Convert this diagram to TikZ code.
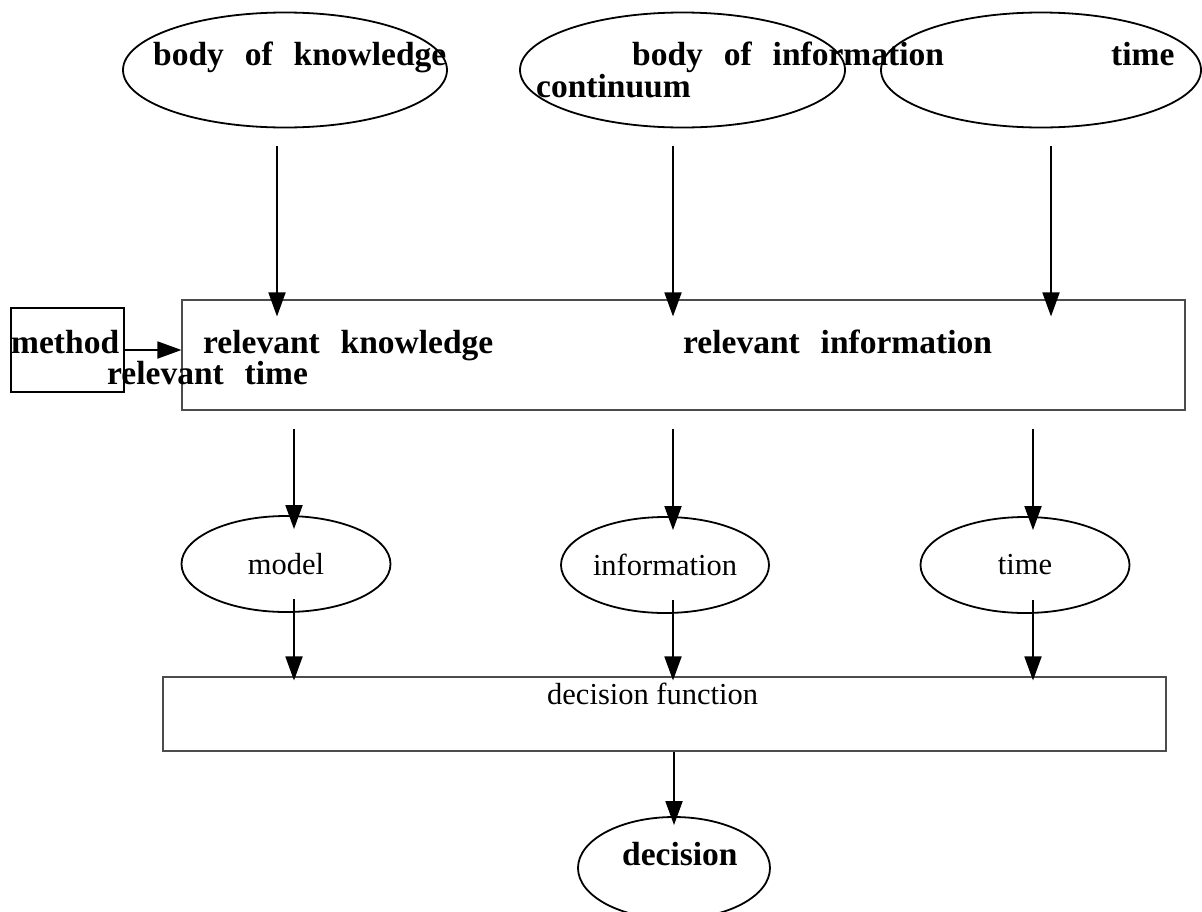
\documentclass[tikz,border=0pt]{standalone}
\usepackage{fontspec}
\setmainfont{Liberation Serif}
\newfontfamily\heavy[WordSpace=2.5]{Liberation Serif}
\usetikzlibrary{arrows.meta,positioning,shapes.geometric}

\tikzset{
  oval/.style={ellipse, draw, line width=1.8pt, inner sep=0pt},
  panel/.style={rectangle, draw=black!70, line width=1.1pt, inner sep=0pt},
  tag/.style={inner sep=0pt, anchor=base west, font=\heavy\bfseries\fontsize{33.5}{40}\selectfont},
  plain/.style={font=\fontsize{30.5}{36}\selectfont},
  arr/.style={-{Triangle[length=24pt,width=17pt]}, line width=1.8pt}
}

\begin{document}
\begin{tikzpicture}[x=1pt,y=-1pt]
\useasboundingbox (0,0) rectangle (1202,911);

% sources
\node[oval, minimum width=324pt, minimum height=115pt] (kbody) at (285,70)    {};
\node[oval, minimum width=325pt, minimum height=115pt] (ibody) at (682.5,70)  {};
\node[oval, minimum width=320pt, minimum height=115pt] (tbody) at (1041,70)   {};
\node[tag] (kbody-txt) at (153,65)  {body of knowledge};
\node[tag] (ibody-txt) at (632,65)  {body of information};
\node[tag] (tbody-txt) at (1111,65) {time};
\node[tag] (cont-txt)  at (536,97)  {continuum};

% filter
\node[panel, minimum width=1003pt, minimum height=110pt] (relbox) at (683.5,355) {};
\node[rectangle, draw, line width=1.5pt, minimum width=113pt, minimum height=84pt] (method) at (67.5,350) {};
\node[tag] (method-txt) at (11,353)  {method};
\node[tag] (rk-txt)     at (203,353) {relevant knowledge};
\node[tag] (ri-txt)     at (683,353) {relevant information};
\node[tag] (rt-txt)     at (107,384) {relevant time};

% inputs
\node[oval, plain, minimum width=209pt, minimum height=96pt] (model) at (286,564)  {model};
\node[oval, plain, minimum width=208pt, minimum height=96pt] (info)  at (665,565)  {information};
\node[oval, plain, minimum width=209pt, minimum height=96pt] (tnow)  at (1025,565) {time};

% decision
\node[panel, minimum width=1003pt, minimum height=74pt] (dfun) at (664.5,714) {};
\node[plain, inner sep=0pt, anchor=base west] (dfun-txt) at (547,704) {decision function};
\node[oval, minimum width=192pt, minimum height=102pt] (dec) at (674,868) {};
\node[tag] (dec-txt) at (622,865) {decision};

\draw[arr, shorten <=18pt, shorten >=-17pt] ([xshift=-8pt]kbody.south) -- ([xshift=-8pt]kbody.south |- relbox.north);
\draw[arr, shorten <=18pt, shorten >=-17pt] ([xshift=-9.5pt]ibody.south) -- ([xshift=-9.5pt]ibody.south |- relbox.north);
\draw[arr, shorten <=18pt, shorten >=-17pt] ([xshift=10pt]tbody.south) -- ([xshift=10pt]tbody.south |- relbox.north);
\draw[arr] (method.east) -- (method.east -| relbox.west);

\draw[arr, shorten <=18pt, shorten >=-14pt] ([xshift=8pt]model.north |- relbox.south) -- ([xshift=8pt]model.north);
\draw[arr, shorten <=18pt, shorten >=-14pt] ([xshift=8pt]info.north |- relbox.south) -- ([xshift=8pt]info.north);
\draw[arr, shorten <=18pt, shorten >=-14pt] ([xshift=8pt]tnow.north |- relbox.south) -- ([xshift=8pt]tnow.north);

\draw[arr, shorten <=-14pt, shorten >=-4pt] ([xshift=8pt]model.south) -- ([xshift=8pt]model.south |- dfun.north);
\draw[arr, shorten <=-14pt, shorten >=-4pt] ([xshift=8pt]info.south) -- ([xshift=8pt]info.south |- dfun.north);
\draw[arr, shorten <=-14pt, shorten >=-4pt] ([xshift=8pt]tnow.south) -- ([xshift=8pt]tnow.south |- dfun.north);

\draw[arr, shorten >=-9pt] (dec.north |- dfun.south) -- (dec.north);
\end{tikzpicture}
\end{document}
